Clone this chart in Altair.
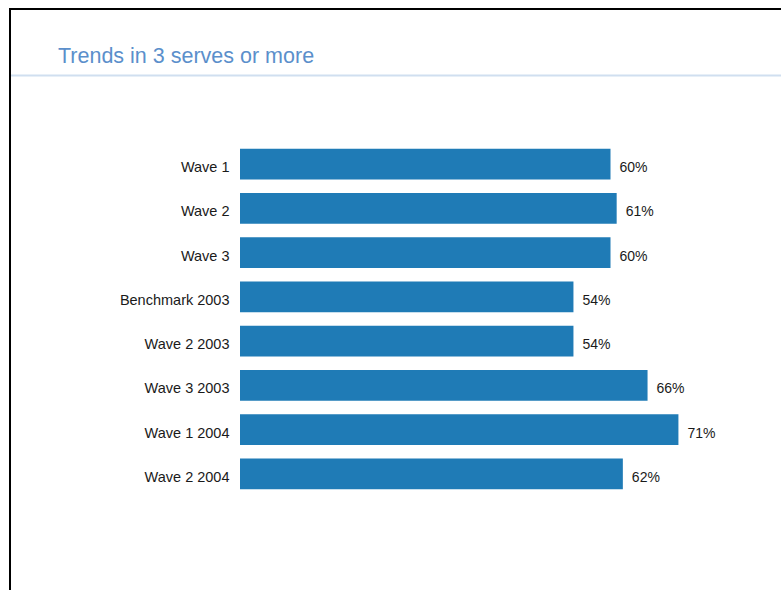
import altair as alt
import pandas as pd

categories = ["Wave 1", "Wave 2", "Wave 3", "Benchmark 2003", "Wave 2 2003",
              "Wave 3 2003", "Wave 1 2004", "Wave 2 2004"]
values = [60, 61, 60, 54, 54, 66, 71, 62]
title_text = "Trends in 3 serves or more"

FONT = "Liberation Sans"
BAR = "#1f7bb6"

df = pd.DataFrame({"cat": categories, "value": values})
one = pd.DataFrame({"a": [0]})

y_enc = alt.Y("cat:N", sort=categories,
              scale=alt.Scale(paddingInner=0.3, paddingOuter=0.15),
              axis=alt.Axis(title=None, ticks=False, domain=False, labelFontSize=14.5,
                            labelFont=FONT, labelColor="#1a1a1a", labelPadding=11,
                            labelLimit=0, labelOffset=4))
x_enc = alt.X("value:Q", scale=alt.Scale(domain=[0, 80], nice=False), axis=None)

bars = alt.Chart(df).mark_bar(color=BAR).encode(x=x_enc, y=y_enc)
labels = alt.Chart(df).transform_calculate(lbl="datum.value + '%'").mark_text(
    align="left", baseline="middle", dx=9, dy=4, fontSize=14, font=FONT, color="#1a1a1a"
).encode(x=x_enc, y=y_enc, text="lbl:N")

title = alt.Chart(one).mark_text(
    align="left", baseline="alphabetic", fontSize=21.5, font=FONT, color="#5b8fcb"
).encode(x=alt.value(-182), y=alt.value(-79), text=alt.value(title_text))

sep = alt.Chart(one).mark_rule(color="#d0dff0", strokeWidth=2).encode(
    x=alt.value(-230), x2=alt.value(545), y=alt.value(-66.5))
frame_left = alt.Chart(one).mark_rule(color="#000000", strokeWidth=2).encode(
    x=alt.value(-230), y=alt.value(-133), y2=alt.value(452))
frame_top = alt.Chart(one).mark_rule(color="#000000", strokeWidth=2).encode(
    x=alt.value(-231), x2=alt.value(545), y=alt.value(-133))

chart = alt.layer(sep, frame_left, frame_top, title, bars, labels).properties(
    width=494, height=354,
    autosize=alt.AutoSizeParams(type="none"),
    padding={"left": 240, "top": 142, "right": 47, "bottom": 94},
    background="white",
).configure_view(strokeWidth=0)

chart.save("out.html", embed_options={"renderer": "svg", "actions": False})
